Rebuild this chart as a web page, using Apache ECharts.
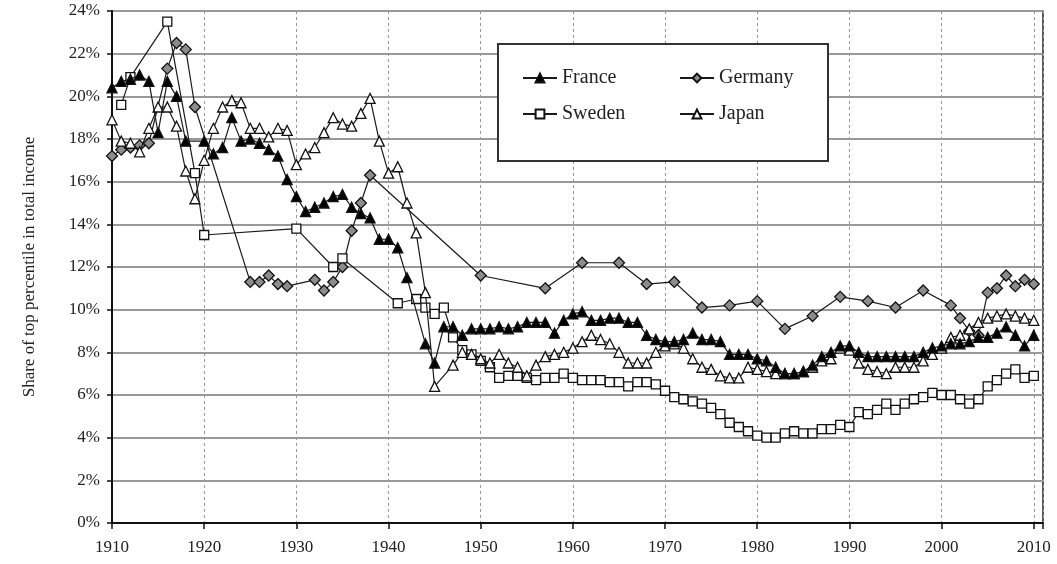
<!DOCTYPE html>
<html>
<head>
<meta charset="utf-8">
<script src="https://cdn.jsdelivr.net/npm/echarts@6/dist/echarts.min.js"></script>
<style>
  html, body { margin: 0; padding: 0; background: #fff; }
  #chart { width: 1057px; height: 564px; }
</style>
</head>
<body>
<div id="chart"></div>
<script>
// top 1% income share, [year, %]
const france = [
  [1910,20.4],[1911,20.7],[1912,20.8],[1913,21.0],[1914,20.7],[1915,18.3],[1916,20.7],[1917,20.0],[1918,17.9],
  [1920,17.9],[1921,17.3],[1922,17.6],[1923,19.0],[1924,17.9],[1925,18.0],[1926,17.8],[1927,17.5],[1928,17.2],[1929,16.1],
  [1930,15.3],[1931,14.6],[1932,14.8],[1933,15.0],[1934,15.3],[1935,15.4],[1936,14.8],[1937,14.5],[1938,14.3],[1939,13.3],
  [1940,13.3],[1941,12.9],[1942,11.5],[1944,8.4],[1945,7.5],[1946,9.2],[1947,9.2],[1948,8.8],[1949,9.1],
  [1950,9.1],[1951,9.1],[1952,9.2],[1953,9.1],[1954,9.2],[1955,9.4],[1956,9.4],[1957,9.4],[1958,8.9],[1959,9.5],
  [1960,9.8],[1961,9.9],[1962,9.5],[1963,9.5],[1964,9.6],[1965,9.6],[1966,9.4],[1967,9.4],[1968,8.8],[1969,8.6],
  [1970,8.5],[1971,8.5],[1972,8.6],[1973,8.9],[1974,8.6],[1975,8.6],[1976,8.5],[1977,7.9],[1978,7.9],[1979,7.9],
  [1980,7.7],[1981,7.6],[1982,7.3],[1983,7.0],[1984,7.0],[1985,7.1],[1986,7.4],[1987,7.8],[1988,8.0],[1989,8.3],
  [1990,8.3],[1991,8.0],[1992,7.8],[1993,7.8],[1994,7.8],[1995,7.8],[1996,7.8],[1997,7.8],[1998,8.0],[1999,8.2],
  [2000,8.3],[2001,8.4],[2002,8.4],[2003,8.5],[2004,8.7],[2005,8.7],[2006,8.9],[2007,9.2],[2008,8.8],[2009,8.3],[2010,8.8]
];
const germany = [
  [1910,17.2],[1911,17.5],[1912,17.6],[1913,17.7],[1914,17.8],[1916,21.3],[1917,22.5],[1918,22.2],[1919,19.5],
  [1925,11.3],[1926,11.3],[1927,11.6],[1928,11.2],[1929,11.1],[1932,11.4],[1933,10.9],[1934,11.3],[1935,12.0],
  [1936,13.7],[1937,15.0],[1938,16.3],[1950,11.6],[1957,11.0],[1961,12.2],[1965,12.2],[1968,11.2],[1971,11.3],
  [1974,10.1],[1977,10.2],[1980,10.4],[1983,9.1],[1986,9.7],[1989,10.6],[1992,10.4],[1995,10.1],[1998,10.9],
  [2001,10.2],[2002,9.6],[2003,9.0],[2004,8.8],[2005,10.8],[2006,11.0],[2007,11.6],[2008,11.1],[2009,11.4],[2010,11.2]
];
const sweden = [
  [1911,19.6],[1912,20.9],[1916,23.5],[1919,16.4],[1920,13.5],[1930,13.8],[1934,12.0],[1935,12.4],
  [1941,10.3],[1943,10.5],[1944,10.1],[1945,9.8],[1946,10.1],[1947,8.7],[1948,8.1],[1949,7.9],
  [1950,7.6],[1951,7.3],[1952,6.8],[1953,6.9],[1954,6.9],[1955,6.8],[1956,6.7],[1957,6.8],[1958,6.8],[1959,7.0],
  [1960,6.8],[1961,6.7],[1962,6.7],[1963,6.7],[1964,6.6],[1965,6.6],[1966,6.4],[1967,6.6],[1968,6.6],[1969,6.5],
  [1970,6.2],[1971,5.9],[1972,5.8],[1973,5.7],[1974,5.6],[1975,5.4],[1976,5.1],[1977,4.7],[1978,4.5],[1979,4.3],
  [1980,4.1],[1981,4.0],[1982,4.0],[1983,4.2],[1984,4.3],[1985,4.2],[1986,4.2],[1987,4.4],[1988,4.4],[1989,4.6],
  [1990,4.5],[1991,5.2],[1992,5.1],[1993,5.3],[1994,5.6],[1995,5.3],[1996,5.6],[1997,5.8],[1998,5.9],[1999,6.1],
  [2000,6.0],[2001,6.0],[2002,5.8],[2003,5.6],[2004,5.8],[2005,6.4],[2006,6.7],[2007,7.0],[2008,7.2],[2009,6.8],[2010,6.9]
];
const japan = [
  [1910,18.9],[1911,17.9],[1912,17.8],[1913,17.4],[1914,18.5],[1915,19.5],[1916,19.5],[1917,18.6],[1918,16.5],[1919,15.2],
  [1920,17.0],[1921,18.5],[1922,19.5],[1923,19.8],[1924,19.7],[1925,18.5],[1926,18.5],[1927,18.1],[1928,18.5],[1929,18.4],
  [1930,16.8],[1931,17.3],[1932,17.6],[1933,18.3],[1934,19.0],[1935,18.7],[1936,18.6],[1937,19.2],[1938,19.9],[1939,17.9],
  [1940,16.4],[1941,16.7],[1942,15.0],[1943,13.6],[1944,10.8],[1945,6.4],[1947,7.4],[1948,8.0],[1949,7.9],
  [1950,7.7],[1951,7.5],[1952,7.9],[1953,7.5],[1954,7.3],[1955,6.9],[1956,7.4],[1957,7.8],[1958,7.9],[1959,8.0],
  [1960,8.2],[1961,8.5],[1962,8.8],[1963,8.6],[1964,8.4],[1965,8.0],[1966,7.5],[1967,7.5],[1968,7.5],[1969,8.0],
  [1970,8.3],[1971,8.4],[1972,8.2],[1973,7.7],[1974,7.3],[1975,7.2],[1976,6.9],[1977,6.8],[1978,6.8],[1979,7.3],
  [1980,7.2],[1981,7.1],[1982,7.0],[1983,7.0],[1984,7.0],[1985,7.1],[1986,7.3],[1987,7.6],[1988,7.7],[1989,8.2],
  [1990,8.1],[1991,7.5],[1992,7.2],[1993,7.1],[1994,7.0],[1995,7.3],[1996,7.3],[1997,7.3],[1998,7.6],[1999,7.9],
  [2000,8.2],[2001,8.7],[2002,8.8],[2003,9.1],[2004,9.4],[2005,9.6],[2006,9.7],[2007,9.8],[2008,9.7],[2009,9.6],[2010,9.5]
];

const serif = 'Liberation Serif';
const chart = echarts.init(document.getElementById('chart'));

function line(name, data, symbol, size, fill, z) {
  return {
    name: name,
    type: 'line',
    data: data,
    symbol: symbol,
    symbolSize: size,
    showAllSymbol: true,
    z: z,
    lineStyle: { color: '#1a1a1a', width: 1.2 },
    itemStyle: { color: fill, borderColor: '#111', borderWidth: 1.3 },
    emphasis: { disabled: true },
    animation: false
  };
}

// one legend per column so Germany/Japan line up
function legendCol(names, left) {
  return {
    data: names,
    orient: 'vertical',
    left: left, top: 68,
    padding: 0,
    z: 20,
    itemWidth: 34, itemHeight: 11, itemGap: 16,
    textStyle: { fontFamily: serif, fontSize: 20, color: '#222' }
  };
}

const option = {
  backgroundColor: '#fff',
  textStyle: { fontFamily: serif },
  grid: {
    left: 112, right: 14, top: 11, bottom: 41,
    show: true, borderColor: '#222', borderWidth: 1.5
  },
  graphic: [{
    type: 'rect',
    left: 497, top: 43,
    shape: { width: 330, height: 117 },
    style: { fill: '#fff', stroke: '#333', lineWidth: 2 },
    z: 2
  }],
  legend: [
    legendCol(['France', 'Sweden'], 522),
    legendCol(['Germany', 'Japan'], 679)
  ],
  xAxis: {
    type: 'value',
    min: 1910, max: 2011, interval: 10,
    axisLine: { lineStyle: { color: '#111', width: 2 } },
    axisTick: { show: true, length: 6, lineStyle: { color: '#111', width: 1.5 } },
    axisLabel: {
      margin: 16, fontSize: 17, color: '#222', fontFamily: serif,
      formatter: v => (v % 10 === 0 ? String(v) : '')
    },
    splitLine: { show: true, lineStyle: { color: '#999', type: [3, 3], width: 1 } }
  },
  yAxis: {
    type: 'value',
    min: 0, max: 24, interval: 2,
    name: 'Share of top percentile in total income',
    nameLocation: 'middle', nameGap: 74,
    nameTextStyle: { fontSize: 17, color: '#222', fontFamily: serif },
    axisLine: { show: true, lineStyle: { color: '#111', width: 2 } },
    axisTick: { show: true, length: 5, lineStyle: { color: '#111', width: 1.5 } },
    axisLabel: { margin: 12, fontSize: 17, color: '#222', fontFamily: serif, formatter: '{value}%' },
    splitLine: { show: true, lineStyle: { color: '#999', width: 2 } }
  },
  series: [
    line('Germany', germany, 'diamond', 11, '#8c8c8c', 3),
    line('Sweden', sweden, 'rect', 9, '#fff', 4),
    line('Japan', japan, 'triangle', 10, '#fff', 5),
    line('France', france, 'triangle', 10, '#000', 6)
  ]
};
chart.setOption(option);
</script>
</body>
</html>
